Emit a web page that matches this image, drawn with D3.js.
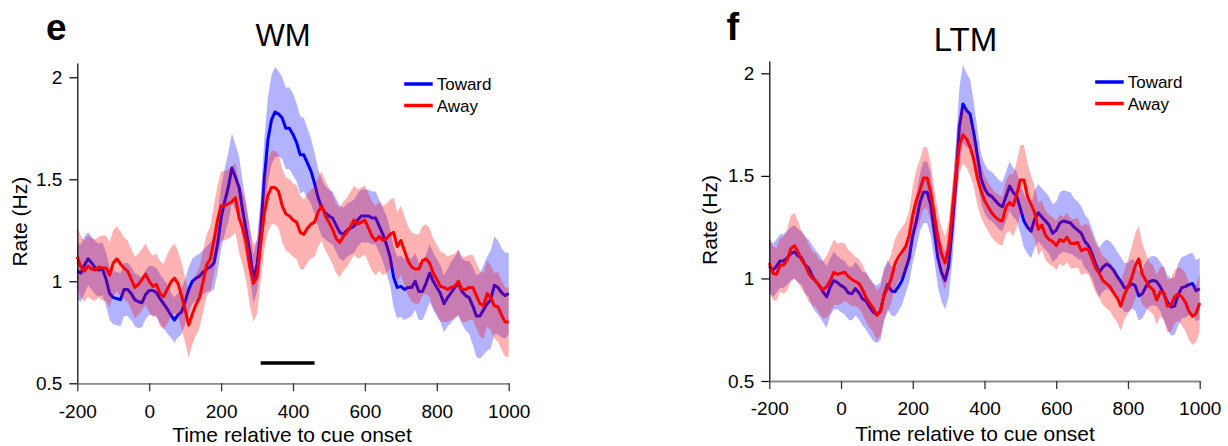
<!DOCTYPE html>
<html><head><meta charset="utf-8">
<script src="https://cdn.jsdelivr.net/npm/d3@7"></script>
<style>
body{margin:0;background:#fff}
svg{display:block}
text{font-family:"Liberation Sans",Arial,Helvetica,sans-serif;fill:#000}
</style>
</head><body>
<svg id="chart" width="1228" height="446"></svg>
<script>
// ---------------- DATA ----------------
const timeMs = d3.range(-200, 1001, 10); // sample times (ms), 10 ms grid
const xTicks = [-200, 0, 200, 400, 600, 800, 1000];
const yTicks = [0.5, 1, 1.5, 2];
const seriesNames = ["Toward", "Away"];

// WM panel (e)
const wmToward = [
 1.05,1.04,1.08,1.11,1.09,1.065,1.055,1.06,1.01,0.94,
 0.92,0.915,0.91,0.96,0.96,0.94,0.91,0.90,0.895,0.935,
 0.955,0.955,0.945,0.915,0.89,0.865,0.835,0.81,0.835,0.85,
 0.9,0.96,1.0,1.015,1.025,1.045,1.06,1.07,1.09,1.18,
 1.31,1.39,1.46,1.555,1.51,1.46,1.35,1.245,1.14,1.01,
 1.08,1.24,1.5,1.69,1.79,1.83,1.82,1.80,1.75,1.75,
 1.72,1.68,1.62,1.62,1.58,1.54,1.48,1.41,1.36,1.335,
 1.32,1.31,1.275,1.24,1.23,1.25,1.26,1.27,1.30,1.32,
 1.32,1.32,1.31,1.31,1.27,1.23,1.18,1.12,1.02,0.97,
 0.975,0.96,0.97,0.97,1.0,0.95,0.95,0.99,1.04,1.0,
 0.97,0.94,0.89,0.92,0.945,0.97,0.99,0.95,0.93,0.92,
 0.88,0.83,0.83,0.86,0.89,0.91,0.98,0.97,0.945,0.93,
 0.94];
const wmTowardSem = [
 0.14,0.14,0.14,0.13,0.13,0.13,0.13,0.13,0.13,0.13,
 0.13,0.13,0.13,0.13,0.13,0.13,0.13,0.13,0.12,0.12,
 0.12,0.12,0.12,0.12,0.12,0.12,0.11,0.11,0.11,0.11,
 0.11,0.11,0.11,0.11,0.11,0.11,0.11,0.12,0.13,0.14,
 0.15,0.16,0.17,0.17,0.16,0.15,0.14,0.13,0.12,0.12,
 0.13,0.16,0.19,0.21,0.22,0.22,0.21,0.20,0.20,0.20,
 0.20,0.19,0.19,0.18,0.17,0.16,0.15,0.14,0.14,0.13,
 0.13,0.13,0.13,0.13,0.13,0.13,0.13,0.13,0.13,0.13,
 0.13,0.13,0.13,0.13,0.13,0.13,0.14,0.14,0.15,0.15,
 0.15,0.15,0.15,0.14,0.14,0.14,0.14,0.14,0.14,0.14,
 0.14,0.14,0.14,0.14,0.15,0.15,0.16,0.16,0.17,0.18,
 0.19,0.20,0.21,0.22,0.23,0.24,0.24,0.23,0.22,0.21,
 0.20];
const wmAway = [
 1.12,1.07,1.05,1.075,1.06,1.055,1.07,1.065,1.065,1.03,
 1.09,1.11,1.085,1.065,1.05,1.01,0.97,0.985,1.01,1.035,
 1.0,0.975,0.985,0.94,0.925,0.96,0.995,1.015,0.99,0.93,
 0.86,0.785,0.84,0.885,0.92,1.0,1.08,1.11,1.2,1.3,
 1.37,1.37,1.38,1.39,1.41,1.31,1.26,1.19,1.07,0.99,
 1.02,1.18,1.33,1.42,1.46,1.46,1.44,1.37,1.33,1.32,
 1.30,1.29,1.24,1.23,1.26,1.28,1.29,1.34,1.37,1.32,
 1.29,1.255,1.21,1.19,1.22,1.24,1.27,1.30,1.28,1.29,
 1.30,1.26,1.22,1.2,1.22,1.2,1.21,1.23,1.24,1.17,
 1.2,1.15,1.1,1.07,1.06,1.06,1.1,1.11,1.09,1.04,
 1.01,0.975,0.97,0.96,0.97,0.975,1.0,0.96,0.96,0.97,
 0.97,0.93,0.89,0.88,0.94,0.92,0.88,0.875,0.835,0.80,
 0.80];
const wmAwaySem = [
 0.15,0.15,0.15,0.15,0.15,0.15,0.15,0.16,0.16,0.16,
 0.16,0.16,0.16,0.15,0.15,0.15,0.15,0.15,0.15,0.15,
 0.15,0.15,0.15,0.16,0.16,0.17,0.17,0.17,0.16,0.16,
 0.16,0.16,0.15,0.15,0.15,0.15,0.15,0.16,0.17,0.17,
 0.17,0.17,0.17,0.17,0.17,0.17,0.18,0.19,0.19,0.19,
 0.18,0.18,0.18,0.18,0.18,0.18,0.18,0.18,0.18,0.18,
 0.18,0.18,0.18,0.17,0.17,0.17,0.17,0.17,0.17,0.17,
 0.17,0.17,0.17,0.17,0.17,0.17,0.17,0.17,0.17,0.17,
 0.17,0.17,0.17,0.17,0.17,0.17,0.17,0.17,0.17,0.17,
 0.17,0.17,0.17,0.17,0.17,0.17,0.17,0.17,0.17,0.17,
 0.17,0.17,0.17,0.16,0.16,0.16,0.16,0.16,0.16,0.16,
 0.16,0.16,0.16,0.16,0.16,0.16,0.16,0.17,0.17,0.17,
 0.17];
const wmSigWindow = [310, 460];
const wmSigLevel = 0.6;

// LTM panel (f)
const ltmToward = [
 1.06,1.04,1.06,1.085,1.085,1.10,1.12,1.13,1.11,1.10,
 1.065,1.05,1.01,0.985,0.965,0.935,0.91,0.96,0.99,0.98,
 0.965,0.955,0.93,0.925,0.95,0.93,0.90,0.89,0.86,0.835,
 0.825,0.84,0.92,0.97,0.94,0.935,0.96,0.99,1.045,1.10,
 1.21,1.28,1.37,1.42,1.42,1.36,1.23,1.10,1.03,0.99,
 1.06,1.25,1.47,1.74,1.85,1.82,1.80,1.71,1.60,1.49,
 1.44,1.41,1.40,1.38,1.36,1.35,1.40,1.45,1.42,1.40,
 1.34,1.28,1.25,1.23,1.29,1.32,1.30,1.28,1.26,1.22,
 1.235,1.27,1.28,1.275,1.27,1.25,1.235,1.22,1.18,1.16,
 1.12,1.07,1.03,1.055,1.07,1.06,1.04,1.01,0.985,0.955,
 0.955,0.975,0.965,0.915,0.925,0.96,0.985,0.99,0.985,0.96,
 0.925,0.885,0.86,0.865,0.92,0.955,0.96,0.97,0.975,0.94,
 0.95];
const ltmTowardSem = [
 0.13,0.13,0.13,0.13,0.13,0.13,0.13,0.13,0.13,0.13,
 0.14,0.14,0.15,0.15,0.15,0.15,0.15,0.14,0.14,0.13,
 0.13,0.13,0.13,0.13,0.13,0.13,0.13,0.14,0.14,0.14,
 0.14,0.14,0.13,0.12,0.12,0.12,0.12,0.12,0.12,0.12,
 0.13,0.13,0.14,0.15,0.15,0.15,0.14,0.14,0.14,0.14,
 0.15,0.17,0.18,0.19,0.19,0.18,0.17,0.15,0.13,0.12,
 0.12,0.12,0.12,0.12,0.12,0.12,0.12,0.12,0.12,0.12,
 0.12,0.13,0.13,0.13,0.14,0.14,0.14,0.14,0.14,0.14,
 0.14,0.15,0.15,0.15,0.15,0.14,0.14,0.13,0.13,0.13,
 0.12,0.12,0.12,0.12,0.12,0.12,0.12,0.12,0.12,0.12,
 0.12,0.12,0.12,0.12,0.12,0.12,0.12,0.12,0.12,0.12,
 0.13,0.13,0.14,0.14,0.15,0.15,0.15,0.15,0.15,0.15,
 0.15];
const ltmAway = [
 1.075,1.025,1.02,1.065,1.065,1.09,1.145,1.16,1.13,1.09,
 1.065,1.025,1.0,0.99,0.96,0.945,0.96,0.99,1.03,1.02,
 1.025,1.03,1.01,0.995,0.985,0.975,0.945,0.905,0.88,0.855,
 0.82,0.84,0.92,0.955,1.0,1.07,1.105,1.13,1.155,1.21,
 1.31,1.38,1.43,1.49,1.49,1.42,1.31,1.20,1.12,1.075,
 1.15,1.32,1.50,1.65,1.70,1.68,1.64,1.58,1.49,1.43,
 1.38,1.35,1.32,1.30,1.285,1.28,1.35,1.37,1.355,1.41,
 1.48,1.48,1.40,1.36,1.32,1.24,1.26,1.21,1.19,1.18,
 1.16,1.19,1.18,1.2,1.17,1.17,1.175,1.135,1.145,1.14,
 1.095,1.05,1.025,0.99,0.975,0.96,0.93,0.905,0.865,0.92,
 0.96,1.0,1.06,1.095,1.02,0.99,0.96,0.945,0.895,0.935,
 0.93,0.865,0.87,0.91,0.925,0.91,0.885,0.84,0.815,0.83,
 0.88];
const ltmAwaySem = [
 0.13,0.13,0.13,0.13,0.14,0.15,0.16,0.16,0.15,0.14,
 0.14,0.14,0.13,0.13,0.13,0.14,0.15,0.16,0.16,0.15,
 0.15,0.14,0.13,0.13,0.12,0.12,0.12,0.12,0.12,0.12,
 0.12,0.12,0.12,0.12,0.12,0.12,0.12,0.12,0.12,0.12,
 0.14,0.15,0.15,0.15,0.15,0.14,0.13,0.13,0.13,0.13,
 0.13,0.13,0.14,0.14,0.14,0.14,0.14,0.13,0.13,0.13,
 0.12,0.12,0.12,0.12,0.12,0.12,0.13,0.14,0.15,0.16,
 0.17,0.17,0.16,0.14,0.13,0.13,0.12,0.12,0.12,0.12,
 0.12,0.12,0.12,0.12,0.12,0.12,0.12,0.12,0.12,0.12,
 0.12,0.12,0.12,0.12,0.12,0.12,0.12,0.12,0.12,0.12,
 0.13,0.15,0.16,0.16,0.15,0.13,0.12,0.12,0.12,0.12,
 0.13,0.13,0.13,0.13,0.13,0.14,0.14,0.14,0.14,0.14,
 0.14];

// ---------------- LAYOUT ----------------
const FONT = '"Liberation Sans",Arial,Helvetica,sans-serif';
const panels = [
  {letter:"e", title:"WM", toward:wmToward, towardSem:wmTowardSem, away:wmAway, awaySem:wmAwaySem,
   sig:wmSigWindow, sigLevel:wmSigLevel,
   xr:[77.3, 508.7], yr:[383.3, 63.0], yDom:[0.5, 2.07],
   letterPos:[46, 40, 37], titlePos:[283, 46, 31], yLabelPos:[26.5, 221.7], xLabelPos:[292, 441.5]},
  {letter:"f", title:"LTM", toward:ltmToward, towardSem:ltmTowardSem, away:ltmAway, awaySem:ltmAwaySem,
   sig:null,
   xr:[769.3, 1199.7], yr:[381.0, 61.0], yDom:[0.5, 2.06],
   letterPos:[726.5, 40, 38], titlePos:[965.5, 50.5, 33], yLabelPos:[716.5, 220], xLabelPos:[975, 440.5]}
];

const svg = d3.select("#chart");
const BLUE = "#0000ff", RED = "#ff0000";

panels.forEach(p => {
  const x = d3.scaleLinear().domain([-200, 1000]).range(p.xr);
  const y = d3.scaleLinear().domain(p.yDom).range(p.yr);
  const g = svg.append("g");

  const band = (m, s) => d3.area()
    .x((d, i) => x(timeMs[i]))
    .y0((d, i) => y(m[i] - s[i]))
    .y1((d, i) => y(m[i] + s[i]))(m);
  const line = m => d3.line().x((d, i) => x(timeMs[i])).y(d => y(d))(m);

  // draw order: blue band, blue line, red band, red line
  g.append("path").attr("d", band(p.toward, p.towardSem)).attr("fill", BLUE).attr("fill-opacity", 0.3);
  g.append("path").attr("d", line(p.toward)).attr("fill", "none").attr("stroke", BLUE)
    .attr("stroke-width", 3).attr("stroke-linejoin", "round");
  g.append("path").attr("d", band(p.away, p.awaySem)).attr("fill", RED).attr("fill-opacity", 0.3);
  g.append("path").attr("d", line(p.away)).attr("fill", "none").attr("stroke", RED)
    .attr("stroke-width", 3).attr("stroke-linejoin", "round");

  // significance bar
  if (p.sig) {
    g.append("line")
      .attr("x1", x(p.sig[0])).attr("x2", x(p.sig[1]))
      .attr("y1", y(p.sigLevel)).attr("y2", y(p.sigLevel))
      .attr("stroke", "#000").attr("stroke-width", 3.5);
  }

  // y axis
  const ya = g.append("g").attr("transform", `translate(${p.xr[0]},0)`)
    .call(d3.axisLeft(y).tickValues(yTicks).tickSize(8).tickSizeOuter(0).tickPadding(7).tickFormat(d => String(d)));
  ya.select(".domain").attr("stroke", "#000").attr("stroke-width", 1.2);
  ya.selectAll(".tick line").attr("stroke", "#000").attr("stroke-width", 1.2);
  ya.selectAll(".tick text").attr("font-size", 19).attr("font-family", FONT).attr("fill", "#000");

  // x axis
  const xa = g.append("g").attr("transform", `translate(0,${p.yr[0]})`)
    .call(d3.axisBottom(x).tickValues(xTicks).tickSize(8).tickSizeOuter(0).tickPadding(13).tickFormat(d => String(d)));
  xa.select(".domain").attr("stroke", "#8a8a8a").attr("stroke-width", 1.8);
  xa.selectAll(".tick line").attr("stroke", "#333").attr("stroke-width", 1.3);
  xa.selectAll(".tick text").attr("font-size", 19).attr("font-family", FONT).attr("fill", "#000");

  // legend
  const lx0 = p.xr[1] - 104.5, lx1 = p.xr[1] - 76;
  const ly = [p.yr[1] + 21, p.yr[1] + 42.5];
  [BLUE, RED].forEach((c, i) => {
    g.append("line").attr("x1", lx0).attr("x2", lx1).attr("y1", ly[i]).attr("y2", ly[i])
      .attr("stroke", c).attr("stroke-width", 3.5);
    g.append("text").attr("x", lx1 + 4).attr("y", ly[i]).attr("dy", "0.36em")
      .attr("font-size", 17).text(seriesNames[i]);
  });

  // letter, title, axis labels
  g.append("text").attr("x", p.letterPos[0]).attr("y", p.letterPos[1])
    .attr("font-size", p.letterPos[2]).attr("font-weight", "bold").text(p.letter);
  g.append("text").attr("x", p.titlePos[0]).attr("y", p.titlePos[1]).attr("text-anchor", "middle")
    .attr("font-size", p.titlePos[2]).text(p.title);
  g.append("text").attr("transform", `translate(${p.yLabelPos[0]},${p.yLabelPos[1]}) rotate(-90)`)
    .attr("text-anchor", "middle").attr("font-size", 21).text("Rate (Hz)");
  g.append("text").attr("x", p.xLabelPos[0]).attr("y", p.xLabelPos[1]).attr("text-anchor", "middle")
    .attr("font-size", 21).text("Time relative to cue onset");
});
</script>
</body></html>
